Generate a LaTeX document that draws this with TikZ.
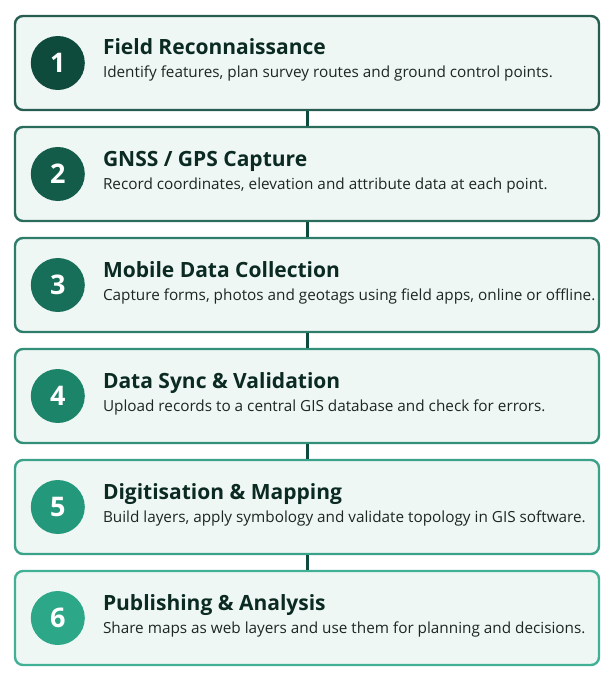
\documentclass[tikz,border=0pt]{standalone}
\usepackage{fontspec}
\setmainfont{Open Sans}
\usetikzlibrary{positioning}
\definecolor{c1}{HTML}{0E4B3C}
\definecolor{c2}{HTML}{125C49}
\definecolor{c3}{HTML}{176F59}
\definecolor{c4}{HTML}{1C8469}
\definecolor{c5}{HTML}{24987B}
\definecolor{c6}{HTML}{2CA889}
\definecolor{boxfill}{HTML}{EFF7F5}
\definecolor{titleink}{HTML}{0B2A22}
\definecolor{descink}{HTML}{1E2624}
\begin{document}
\begin{tikzpicture}[
    node distance=111pt,
    stepbox/.style={rectangle, draw, line width=2.4pt, fill=boxfill, rounded corners=8pt, minimum width=584pt, minimum height=94pt},
    badge/.style={circle, inner sep=0pt, minimum size=54pt, text=white, font=\bfseries\fontsize{27}{28}\selectfont},
    title/.style={anchor=base west, inner sep=0pt, text=titleink, font=\bfseries\fontsize{21}{24}\selectfont},
    desc/.style={anchor=base west, inner sep=0pt, text=descink, font=\fontsize{15.3}{17}\selectfont},
    link/.style={line width=3pt, draw=c1}
]
    \useasboundingbox (0,0) rectangle (615pt,-695pt);

    \node [stepbox, draw=c1!90!white] (s1) at (307pt,-63pt) {};
    \node [stepbox, draw=c2!90!white, below of=s1] (s2) {};
    \node [stepbox, draw=c3!90!white, below of=s2] (s3) {};
    \node [stepbox, draw=c4!90!white, below of=s3] (s4) {};
    \node [stepbox, draw=c5!90!white, below of=s4] (s5) {};
    \node [stepbox, draw=c6!90!white, below of=s5] (s6) {};

    % connectors between the steps
    \draw [link] (s1.south) -- (s2.north);
    \draw [link] (s2.south) -- (s3.north);
    \draw [link] (s3.south) -- (s4.north);
    \draw [link] (s4.south) -- (s5.north);
    \draw [link] (s5.south) -- (s6.north);

    \node [badge, fill=c1] (n1) at ([xshift=44pt]s1.west) {1};
    \node [badge, fill=c2] (n2) at ([xshift=44pt]s2.west) {2};
    \node [badge, fill=c3] (n3) at ([xshift=44pt]s3.west) {3};
    \node [badge, fill=c4] (n4) at ([xshift=44pt]s4.west) {4};
    \node [badge, fill=c5] (n5) at ([xshift=44pt]s5.west) {5};
    \node [badge, fill=c6] (n6) at ([xshift=44pt]s6.west) {6};

    \node [title] (t1) at ([xshift=89pt, yshift=8pt]s1.west) {Field Reconnaissance};
    \node [title] (t2) at ([xshift=89pt, yshift=8pt]s2.west) {GNSS / GPS Capture};
    \node [title] (t3) at ([xshift=89pt, yshift=8pt]s3.west) {Mobile Data Collection};
    \node [title] (t4) at ([xshift=89pt, yshift=8pt]s4.west) {Data Sync \& Validation};
    \node [title] (t5) at ([xshift=89pt, yshift=8pt]s5.west) {Digitisation \& Mapping};
    \node [title] (t6) at ([xshift=89pt, yshift=8pt]s6.west) {Publishing \& Analysis};

    \node [desc] (d1) at ([xshift=89pt, yshift=-15pt]s1.west) {Identify features, plan survey routes and ground control points.};
    \node [desc] (d2) at ([xshift=89pt, yshift=-15pt]s2.west) {Record coordinates, elevation and attribute data at each point.};
    \node [desc] (d3) at ([xshift=89pt, yshift=-15pt]s3.west) {Capture forms, photos and geotags using field apps, online or offline.};
    \node [desc] (d4) at ([xshift=89pt, yshift=-15pt]s4.west) {Upload records to a central GIS database and check for errors.};
    \node [desc] (d5) at ([xshift=89pt, yshift=-15pt]s5.west) {Build layers, apply symbology and validate topology in GIS software.};
    \node [desc] (d6) at ([xshift=89pt, yshift=-15pt]s6.west) {Share maps as web layers and use them for planning and decisions.};
\end{tikzpicture}
\end{document}
